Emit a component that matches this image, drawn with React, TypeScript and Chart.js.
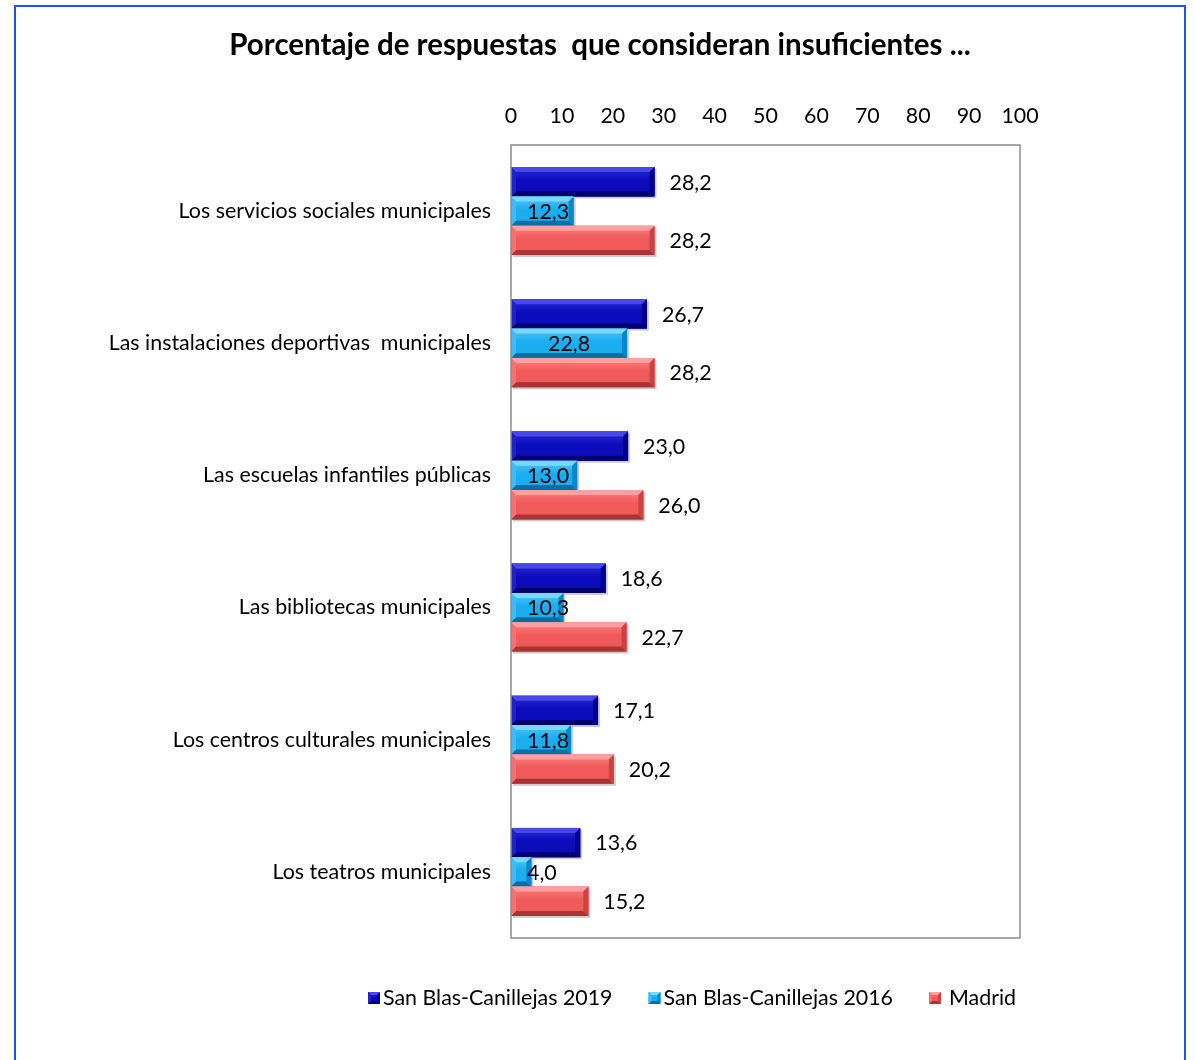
import React, { useEffect, useRef } from "react";
import { Chart, registerables } from "chart.js";

Chart.register(...registerables);

const categories = [
  "Los servicios sociales municipales",
  "Las instalaciones deportivas  municipales",
  "Las escuelas infantiles públicas",
  "Las bibliotecas municipales",
  "Los centros culturales municipales",
  "Los teatros municipales",
];
const series2019 = [28.2, 26.7, 23.0, 18.6, 17.1, 13.6];
const series2016 = [12.3, 22.8, 13.0, 10.3, 11.8, 4.0];
const seriesMadrid = [28.2, 28.2, 26.0, 22.7, 20.2, 15.2];
const seriesNames = ["San Blas-Canillejas 2019", "San Blas-Canillejas 2016", "Madrid"];
const xMin = 0;
const xMax = 100;
const xStep = 10;
const titleText = "Porcentaje de respuestas  que consideran insuficientes ...";

const FONT = "Lato, 'Open Sans', sans-serif";
const FS = 21.4;
const W = 1195;
const H = 1060;

const palette = [
  { face: "#0c0cbc", hi: "#2a2ad8", light: "#4848e8", dark: "#000070", side: "#00008c", left: "#2020cc" },
  { face: "#1cacf0", hi: "#4cc8ff", light: "#7ad8ff", dark: "#0a6ea6", side: "#0b86c4", left: "#3cbcf8" },
  { face: "#f05a5a", hi: "#ff8080", light: "#ffa0a0", dark: "#a83434", side: "#c84444", left: "#f87070" },
];

const fmt = (v: number) => v.toFixed(1).replace(".", ",");

function bevelRect(ctx: CanvasRenderingContext2D, x0: number, y0: number, x1: number, y1: number, c: any, b: number) {
  const g = ctx.createLinearGradient(0, y0, 0, y1);
  g.addColorStop(0, c.hi);
  g.addColorStop(0.45, c.face);
  g.addColorStop(1, c.face);
  ctx.fillStyle = g;
  ctx.fillRect(x0, y0, x1 - x0, y1 - y0);
  const bb = Math.min(b, (x1 - x0) / 2, (y1 - y0) / 2);
  const poly = (pts: number[][], col: string) => {
    ctx.fillStyle = col;
    ctx.beginPath();
    ctx.moveTo(pts[0][0], pts[0][1]);
    for (let k = 1; k < pts.length; k++) ctx.lineTo(pts[k][0], pts[k][1]);
    ctx.closePath();
    ctx.fill();
  };
  poly([[x0, y0], [x1, y0], [x1 - bb, y0 + bb], [x0 + bb, y0 + bb]], c.light);
  poly([[x0, y1], [x1, y1], [x1 - bb, y1 - bb], [x0 + bb, y1 - bb]], c.dark);
  poly([[x1, y0], [x1, y1], [x1 - bb, y1 - bb], [x1 - bb, y0 + bb]], c.side);
  poly([[x0, y0], [x0, y1], [x0 + bb, y1 - bb], [x0 + bb, y0 + bb]], c.left);
}

const decorPlugin = {
  id: "decor",
  beforeDraw(chart: any) {
    const ctx = chart.ctx as CanvasRenderingContext2D;
    ctx.save();
    ctx.fillStyle = "#ffffff";
    ctx.fillRect(0, 0, chart.width, chart.height);
    ctx.strokeStyle = "#1f4ff5";
    ctx.lineWidth = 2;
    ctx.strokeRect(15, 6, 1170, 1100);
    ctx.fillStyle = "#000";
    ctx.font = `bold 29.5px ${FONT}`;
    ctx.textAlign = "center";
    ctx.textBaseline = "middle";
    ctx.fillText(titleText, 600, 45);
    ctx.restore();
  },
  beforeDatasetsDraw(chart: any) {
    const ctx = chart.ctx as CanvasRenderingContext2D;
    ctx.save();
    ctx.fillStyle = "rgba(0,0,0,0.2)";
    chart.data.datasets.forEach((_d: any, i: number) => {
      chart.getDatasetMeta(i).data.forEach((el: any) => {
        const p = el.getProps(["x", "y", "base", "height"], true);
        const x0 = Math.min(p.base, p.x);
        const x1 = Math.max(p.base, p.x);
        ctx.fillRect(x0 + 2, p.y - p.height / 2 + 2, x1 - x0, p.height);
      });
    });
    ctx.restore();
  },
  afterDatasetsDraw(chart: any) {
    const ctx = chart.ctx as CanvasRenderingContext2D;
    ctx.save();
    chart.data.datasets.forEach((_ds: any, i: number) => {
      chart.getDatasetMeta(i).data.forEach((el: any) => {
        const p = el.getProps(["x", "y", "base", "height"], true);
        const x0 = Math.min(p.base, p.x);
        const x1 = Math.max(p.base, p.x);
        bevelRect(ctx, x0, p.y - p.height / 2, x1, p.y + p.height / 2, palette[i], 5);
      });
    });
    const a = chart.chartArea;
    ctx.strokeStyle = "#8c8c8c";
    ctx.lineWidth = 1.5;
    ctx.strokeRect(a.left, a.top, a.right - a.left, a.bottom - a.top);
    ctx.fillStyle = "#000";
    ctx.font = `${FS}px ${FONT}`;
    ctx.textBaseline = "middle";
    chart.data.datasets.forEach((ds: any, i: number) => {
      chart.getDatasetMeta(i).data.forEach((el: any, j: number) => {
        const p = el.getProps(["x", "y", "base", "height"], true);
        const txt = fmt(ds.data[j]);
        const tw = ctx.measureText(txt).width;
        if (i === 1) {
          const cx = Math.max((p.base + p.x) / 2, p.base + 16 + tw / 2);
          ctx.textAlign = "center";
          ctx.fillText(txt, cx, p.y + 1);
        } else {
          ctx.textAlign = "left";
          ctx.fillText(txt, p.x + 15, p.y + 1);
        }
      });
    });
    ctx.restore();
  },
  afterDraw(chart: any) {
    const ctx = chart.ctx as CanvasRenderingContext2D;
    ctx.save();
    ctx.font = `${FS}px ${FONT}`;
    ctx.textBaseline = "middle";
    ctx.textAlign = "left";
    let x = 368;
    const y = 998;
    seriesNames.forEach((name, i) => {
      bevelRect(ctx, x, y - 6, x + 12, y + 6, palette[i], 3);
      ctx.fillStyle = "#000";
      const tx = x + 15 + (i === 2 ? 5 : 0);
      ctx.fillText(name, tx, y);
      x = tx + ctx.measureText(name).width + 36;
    });
    ctx.restore();
  },
};

export default function App() {
  const ref = useRef<HTMLCanvasElement | null>(null);
  useEffect(() => {
    if (!ref.current) return;
    const chart = new Chart(ref.current, {
      type: "bar",
      data: {
        labels: categories,
        datasets: [
          { label: seriesNames[0], data: series2019, backgroundColor: palette[0].face },
          { label: seriesNames[1], data: series2016, backgroundColor: palette[1].face },
          { label: seriesNames[2], data: seriesMadrid, backgroundColor: palette[2].face },
        ],
      },
      options: {
        indexAxis: "y",
        responsive: false,
        animation: false,
        devicePixelRatio: 1,
        layout: { padding: { left: 20, right: 175, top: 100, bottom: 122 } },
        datasets: { bar: { categoryPercentage: 0.666, barPercentage: 1.0 } },
        plugins: {
          legend: { display: false },
          title: { display: false },
          tooltip: { enabled: false },
        },
        scales: {
          x: {
            position: "top",
            min: xMin,
            max: xMax,
            ticks: { stepSize: xStep, color: "#000", font: { family: FONT, size: FS }, padding: 16 },
            grid: { display: false, drawTicks: false },
            border: { display: false },
            afterFit: (s: any) => { s.height = 45; },
          },
          y: {
            ticks: { color: "#000", font: { family: FONT, size: FS }, padding: 20 },
            grid: { display: false, drawTicks: false },
            border: { display: false },
            afterFit: (s: any) => { s.width = 491; },
          },
        },
      },
      plugins: [decorPlugin],
    } as any);
    return () => chart.destroy();
  }, []);
  return (
    <div style={{ position: "absolute", left: 0, top: 0, width: W, height: H }}>
      <canvas ref={ref} width={W} height={H} style={{ width: W, height: H, display: "block" }} />
    </div>
  );
}
